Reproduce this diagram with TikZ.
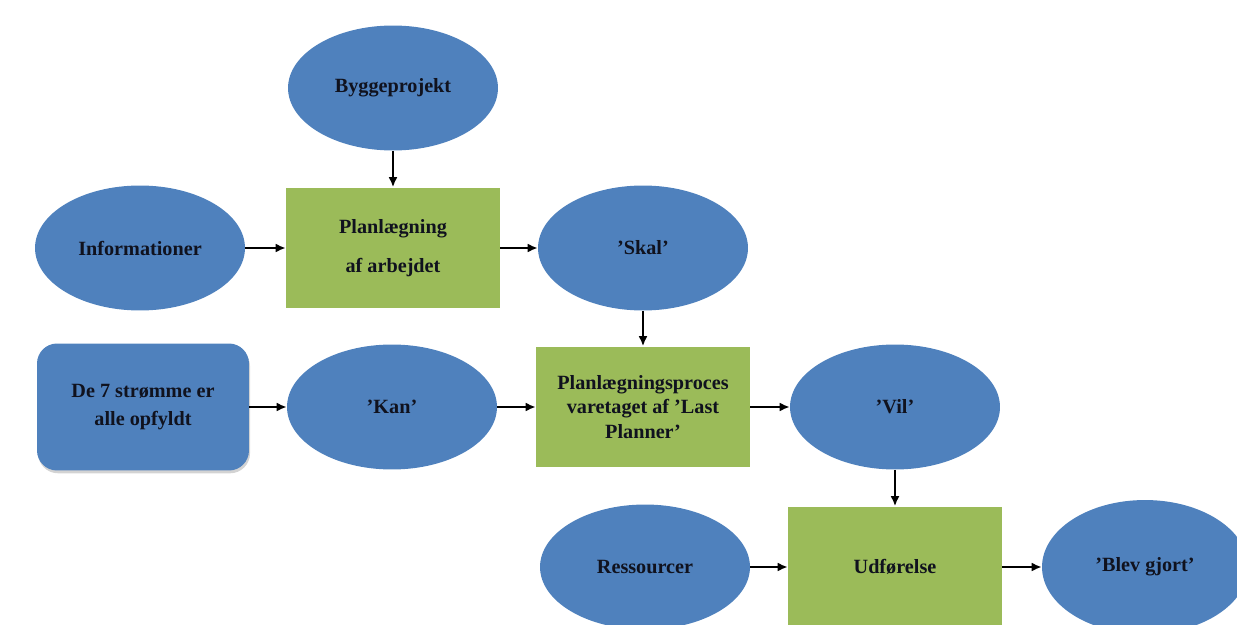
\documentclass[tikz,border=0pt]{standalone}
\usepackage{fontspec}
\setmainfont{Liberation Serif}
\usepackage{tikz}
\usetikzlibrary{arrows.meta}
\usetikzlibrary{shapes.geometric,shadows}

\definecolor{ovalblaa}{HTML}{4F81BD}
\definecolor{boksgroen}{HTML}{9BBB59}
\definecolor{tekst}{HTML}{10121E}

\begin{document}
\begin{tikzpicture}[x=0.02cm,y=-0.02cm,
    oval/.style={ellipse,fill=ovalblaa,inner sep=0pt,minimum width=4.2cm,minimum height=2.5cm},
    boks/.style={rectangle,fill=boksgroen,inner sep=0pt,minimum width=4.28cm,minimum height=2.42cm},
    rundboks/.style={rectangle,rounded corners=0.4cm,fill=ovalblaa,inner sep=0pt,
      minimum width=4.24cm,minimum height=2.54cm,
      drop shadow={shadow xshift=0.6pt,shadow yshift=-1.6pt,opacity=0.35}},
    pil/.style={-{Latex[length=2mm,width=1.8mm]},line width=1.1pt,black},
    every node/.style={text=tekst,font=\fontsize{11.5}{14}\selectfont\bfseries,align=center}]

          % Ramme
          \useasboundingbox (0,0) rectangle (1237,625);
          \clip (0,0) rectangle (1237,625);

          % Oeverste raekke
          \node[oval] (bygge) at (393,88) {Byggeprojekt};
          \node[oval] (info) at (140,248) {Informationer};
          \node[boks] (plan) at (393,248) {Planlægning\\[8pt]af arbejdet};
          \node[oval] (skal) at (643,248) {’Skal’};

          % Midterste raekke
          \node[rundboks] (strom) at (143,407) {De 7 strømme er\\[1.5pt]alle opfyldt};
          \node[oval] (kan) at (392,407) {’Kan’};
          \node[boks] (proces) at (643,407) {Planlægningsproces\\varetaget af ’Last\\Planner’};
          \node[oval] (vil) at (895,407) {’Vil’};

          % Nederste raekke
          \node[oval] (res) at (645,567) {Ressourcer};
          \node[boks] (udf) at (895,567) {Udførelse};
          \node[oval,minimum width=4.12cm,minimum height=2.68cm] (blev) at (1145,567) {’Blev gjort’};

          % Pile
          \foreach \fra/\til in {bygge/plan, info/plan, plan/skal, skal/proces,
            strom/kan, kan/proces, proces/vil, vil/udf, res/udf, udf/blev} {
            \draw[pil] (\fra) -- (\til);
          }

        \end{tikzpicture}
\end{document}
